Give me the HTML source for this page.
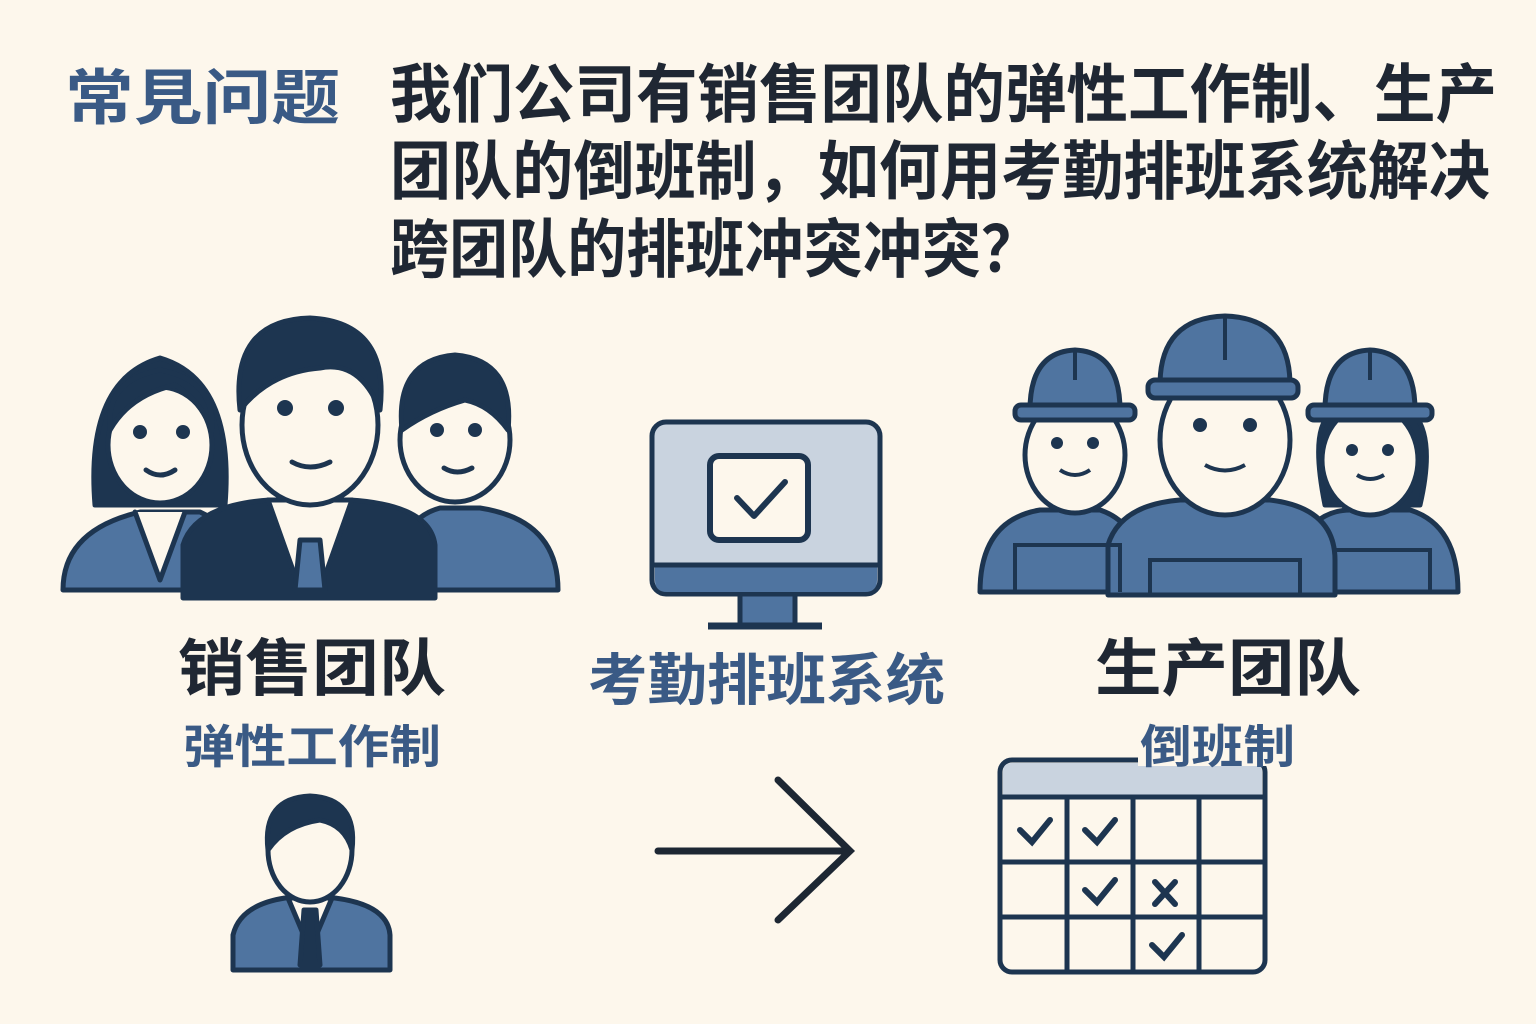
<!DOCTYPE html>
<html><head><meta charset="utf-8"><style>
html,body{margin:0;padding:0;background:#fdf7ec;}
svg{display:block;}
text{font-family:"Liberation Sans","Noto Sans CJK SC",sans-serif;font-weight:bold;}
</style></head><body>
<svg width="1536" height="1024" viewBox="0 0 1536 1024" xmlns="http://www.w3.org/2000/svg">
<rect width="1536" height="1024" fill="#fdf7ec"/>
<text x="65" y="119" font-size="60" fill="#3a5a85" textLength="275" lengthAdjust="spacingAndGlyphs">常見问题</text>
<g fill="#1f2733" font-size="64">
<text x="390" y="117" textLength="1107" lengthAdjust="spacingAndGlyphs">我们公司有销售团队的弹性工作制、生产</text>
<text x="390" y="194" textLength="1100" lengthAdjust="spacingAndGlyphs">团队的倒班制，如何用考勤排班系统解决</text>
<text x="390" y="272" textLength="650" lengthAdjust="spacingAndGlyphs">跨团队的排班冲突冲突？</text>
</g>

<g stroke="#1d3550" stroke-width="5" stroke-linejoin="round" stroke-linecap="round">
<!-- woman -->
<path d="M95 505 Q85 380 160 358 Q235 380 225 505 Z" fill="#1d3550"/>
<path d="M63 590 Q63 530 140 512 L200 512 Q240 530 240 590 Z" fill="#4f74a0"/>
<path d="M135 512 L160 580 L185 512" fill="#fdf7ec"/>
<ellipse cx="160" cy="445" rx="52" ry="58" fill="#fdf7ec"/>
<path d="M110 430 Q130 395 175 385 Q200 400 212 430 Q215 380 160 370 Q105 380 110 430Z" fill="#1d3550"/>
<!-- right man -->
<path d="M395 590 Q395 520 440 508 L480 508 Q558 520 558 590 Z" fill="#4f74a0"/>
<ellipse cx="455" cy="440" rx="55" ry="62" fill="#fdf7ec"/>
<path d="M402 430 Q395 360 455 355 Q515 360 508 430 Q490 405 465 400 Q430 410 402 430Z" fill="#1d3550"/>
<!-- center man -->
<path d="M183 598 L183 545 Q195 505 270 500 L350 500 Q430 505 435 545 L435 598 Z" fill="#1d3550"/>
<path d="M268 500 L300 590 L320 590 L352 500 Z" fill="#fdf7ec"/>
<path d="M300 540 L320 540 L325 590 L295 590 Z" fill="#4f74a0"/>
<ellipse cx="310" cy="425" rx="68" ry="80" fill="#fdf7ec"/>
<path d="M240 410 Q230 320 310 318 Q390 322 380 410 Q360 360 320 368 Q270 372 240 410Z" fill="#1d3550"/>
</g>
<g fill="#1d3550">
<circle cx="140" cy="432" r="7"/><circle cx="183" cy="432" r="7"/>
<circle cx="285" cy="408" r="8"/><circle cx="336" cy="408" r="8"/>
<circle cx="437" cy="430" r="7"/><circle cx="475" cy="430" r="7"/>
</g>
<g fill="none" stroke="#1d3550" stroke-width="5" stroke-linecap="round">
<path d="M146 470 Q160 480 175 470"/><path d="M292 462 Q310 472 330 462"/><path d="M444 468 Q457 476 472 468"/>
</g>

<!-- monitor -->
<g stroke="#1d3550" stroke-width="5" stroke-linejoin="round">
<rect x="740" y="592" width="55" height="33" fill="#4f74a0"/>
<line x1="708" y1="626" x2="822" y2="626" stroke-width="7"/>
<rect x="652" y="422" width="228" height="172" rx="14" fill="#c9d3df"/>
<path d="M655 565 L877 565 L877 580 Q877 592 865 592 L667 592 Q655 592 655 580 Z" fill="#4f74a0" stroke="none"/>
<line x1="652" y1="565" x2="880" y2="565"/>
<rect x="710" y="456" width="98" height="84" rx="9" fill="#fdf7ec" stroke-width="6"/>
<path d="M737 498 L754 516 L785 482" fill="none" stroke-width="6" stroke-linecap="round"/>
</g>

<!-- workers -->
<g stroke="#1d3550" stroke-width="5" stroke-linejoin="round">
<path d="M980 592 Q980 520 1040 510 L1100 510 Q1145 525 1145 592 Z" fill="#4f74a0"/>
<path d="M1300 592 L1300 540 Q1320 510 1350 510 L1410 510 Q1458 525 1458 592 Z" fill="#4f74a0"/>
<path d="M1325 505 Q1310 430 1330 415 L1415 415 Q1435 440 1420 505 Z" fill="#1d3550"/>
<ellipse cx="1075" cy="455" rx="50" ry="58" fill="#fdf7ec"/>
<ellipse cx="1370" cy="460" rx="48" ry="55" fill="#fdf7ec"/>
<path d="M1030 410 Q1030 352 1075 350 Q1120 352 1120 410 Z" fill="#4f74a0"/>
<rect x="1015" y="405" width="120" height="15" rx="6" fill="#4f74a0"/>
<path d="M1325 410 Q1325 352 1370 350 Q1415 352 1415 410 Z" fill="#4f74a0"/>
<rect x="1308" y="405" width="124" height="15" rx="6" fill="#4f74a0"/>
<path d="M1108 595 L1108 545 Q1120 505 1180 500 L1270 500 Q1335 508 1335 560 L1335 595 Z" fill="#4f74a0"/>
<ellipse cx="1225" cy="440" rx="65" ry="75" fill="#fdf7ec"/>
<path d="M1160 385 Q1160 318 1225 316 Q1290 318 1290 385 Z" fill="#4f74a0"/>
<rect x="1148" y="380" width="150" height="18" rx="7" fill="#4f74a0"/>
</g>
<g stroke="#1d3550" stroke-width="4" fill="none">
<line x1="1075" y1="352" x2="1075" y2="380"/><line x1="1225" y1="318" x2="1225" y2="360"/><line x1="1370" y1="352" x2="1370" y2="380"/>
<path d="M1015 592 L1015 545 L1120 545 L1120 592"/><path d="M1150 595 L1150 560 L1300 560 L1300 595"/><path d="M1335 592 L1335 550 L1430 550 L1430 592"/>
<path d="M1060 470 Q1075 480 1090 470"/><path d="M1205 465 Q1225 476 1245 465"/><path d="M1357 475 Q1370 483 1384 475"/>
</g>
<g fill="#1d3550">
<circle cx="1057" cy="443" r="6"/><circle cx="1093" cy="443" r="6"/>
<circle cx="1200" cy="425" r="7"/><circle cx="1250" cy="425" r="7"/>
<circle cx="1352" cy="450" r="6"/><circle cx="1388" cy="450" r="6"/>
</g>

<!-- labels -->
<text x="178" y="690" font-size="62" fill="#1f2733" textLength="268" lengthAdjust="spacingAndGlyphs">销售团队</text>
<text x="183" y="763" font-size="46" fill="#3a5a85" textLength="258" lengthAdjust="spacingAndGlyphs">弹性工作制</text>
<text x="588" y="700" font-size="56" fill="#3a5a85" textLength="357" lengthAdjust="spacingAndGlyphs">考勤排班系统</text>
<text x="1095" y="690" font-size="62" fill="#1f2733" textLength="266" lengthAdjust="spacingAndGlyphs">生产团队</text>

<!-- small person -->
<g stroke="#1d3550" stroke-width="5" stroke-linejoin="round">
<path d="M233 970 L233 935 Q240 905 285 898 L335 898 Q388 905 390 935 L390 970 Z" fill="#4f74a0"/>
<path d="M288 898 L310 950 L332 898 Z" fill="#fdf7ec"/>
<path d="M304 910 L316 910 L320 965 L300 965 Z" fill="#1d3550"/>
<ellipse cx="310" cy="850" rx="42" ry="52" fill="#fdf7ec"/>
<path d="M268 850 Q262 798 310 796 Q358 798 352 850 Q345 825 320 820 Q285 825 268 850Z" fill="#1d3550"/>
</g>

<!-- arrow -->
<g stroke="#1d2733" stroke-width="7" stroke-linecap="round" fill="none">
<line x1="658" y1="851" x2="848" y2="851"/>
<path d="M778 780 L850 851 L778 920"/>
</g>

<!-- calendar -->
<g stroke="#1d3550" stroke-width="5" fill="none">
<rect x="1000" y="760" width="265" height="212" rx="12" fill="#fdf7ec"/>
<path d="M1003 797 L1003 772 Q1003 763 1012 763 L1253 763 Q1262 763 1262 772 L1262 797 Z" fill="#c9d3df" stroke="none"/>
<line x1="1000" y1="797" x2="1265" y2="797"/>
<line x1="1067" y1="797" x2="1067" y2="972"/><line x1="1133" y1="797" x2="1133" y2="972"/><line x1="1199" y1="797" x2="1199" y2="972"/>
<line x1="1000" y1="862" x2="1265" y2="862"/><line x1="1000" y1="917" x2="1265" y2="917"/>
<g stroke-width="6" stroke-linecap="round">
<path d="M1020 830 L1032 842 L1050 820"/><path d="M1085 830 L1097 842 L1115 820"/>
<path d="M1085 890 L1097 902 L1115 880"/><path d="M1152 945 L1164 957 L1182 935"/>
<path d="M1155 882 L1175 904 M1175 882 L1155 904"/>
</g>
</g>
<rect x="1138" y="718" width="160" height="48" fill="#fdf7ec"/>
<text x="1140" y="763" font-size="46" fill="#3a5a85" textLength="155" lengthAdjust="spacingAndGlyphs">倒班制</text>
</svg>
</body></html>
